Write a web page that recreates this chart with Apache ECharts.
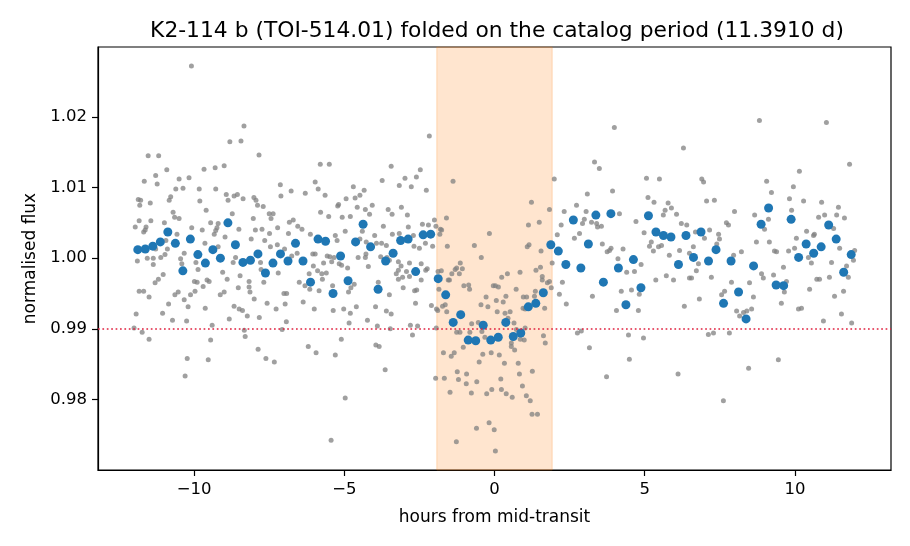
<!DOCTYPE html>
<html>
<head>
<meta charset="utf-8">
<script src="https://cdn.jsdelivr.net/npm/echarts@6/dist/echarts.min.js"></script>
<style>
  html, body { margin: 0; padding: 0; background: #fff; }
  #chart { width: 910px; height: 546px; }
</style>
</head>
<body>
<div id="chart"></div>
<script>
// folded light curve, hours from mid-transit vs normalised flux
const titleText = 'K2-114 b (TOI-514.01) folded on the catalog period (11.3910 d)';
const xTicks = [-10, -5, 0, 5, 10];
const yTicks = [0.98, 0.99, 1.00, 1.01, 1.02];
const transitWindow = [-1.92, 1.92];
const depthLevel = 0.98934;

// individual (unbinned) points [hours, flux]
const rawPoints = [
  [-10.09,1.0272],[-8.34,1.0187],[-8.81,1.0165],[-8.44,1.0166],[-7.84,1.0146],[-11.53,1.0145],[-11.18,1.0145],[-10.91,1.0125],
  [-9.00,1.0131],[-9.30,1.0128],[-9.67,1.0126],[-11.28,1.0117],[-10.50,1.0112],[-10.17,1.0114],[-11.66,1.0109],[-11.23,1.0105],
  [-10.61,1.0098],[-10.37,1.0099],[-9.83,1.0098],[-9.28,1.0098],[-7.13,1.0104],[-6.77,1.0095],[-7.11,1.0088],[-11.86,1.0083],
  [-11.78,1.0082],[-11.81,1.0075],[-11.46,1.0078],[-10.78,1.0087],[-10.83,1.0082],[-8.93,1.0090],[-8.87,1.0082],[-8.67,1.0088],
  [-8.56,1.0090],[-8.37,1.0084],[-8.01,1.0086],[-7.94,1.0082],[-7.89,1.0075],[-7.70,1.0073],[-9.81,1.0081],[-9.60,1.0068],
  [-10.70,1.0065],[-10.65,1.0058],[-10.50,1.0056],[-8.73,1.0063],[-7.50,1.0063],[-7.37,1.0063],[-7.44,1.0056],[-8.03,1.0056],
  [-11.83,1.0053],[-11.44,1.0053],[-10.99,1.0050],[-9.45,1.0050],[-9.20,1.0049],[-11.96,1.0044],[-11.60,1.0044],[-11.63,1.0040],
  [-11.68,1.0037],[-8.51,1.0041],[-7.96,1.0040],[-7.74,1.0041],[-6.83,1.0051],[-6.70,1.0054],[-6.55,1.0045],[-6.86,1.0035],
  [-10.08,1.0043],[-9.73,1.0040],[-9.24,1.0043],[-9.28,1.0039],[-9.33,1.0034],[-7.49,1.0035],[-7.22,1.0043],[-8.10,1.0027],
  [-8.97,1.0030],[-7.65,1.0025],[-10.94,1.0025],[-10.57,1.0034],[-11.28,1.0013],
  [-11.89,0.9996],[-11.56,1.0000],[-11.36,1.0000],[-11.36,0.9991],[-11.11,1.0001],[-10.97,1.0005],[-10.89,1.0013],[-10.33,1.0007],
  [-10.45,0.9999],[-10.41,0.9992],[-9.94,0.9994],[-9.87,0.9984],[-9.64,1.0021],[-9.20,1.0016],[-9.05,0.9980],[-8.90,0.9970],
  [-8.70,0.9994],[-8.62,1.0001],[-8.53,0.9958],[-8.47,0.9975],[-8.17,0.9967],[-8.17,0.9959],[-8.14,0.9952],[-8.00,0.9942],
  [-7.79,0.9994],[-7.77,0.9984],[-7.68,0.9966],[-7.62,0.9980],[-7.46,1.0016],[-7.20,0.9979],[-7.23,1.0019],[-6.99,1.0013],
  [-6.75,1.0003],[-6.50,0.9966],[-11.83,0.9953],[-11.68,0.9953],[-11.50,0.9945],[-11.30,0.9965],[-11.19,0.9970],[-11.03,0.9977],
  [-10.85,0.9935],[-10.64,0.9948],[-10.53,0.9952],[-10.33,0.9941],[-10.20,0.9931],[-10.12,0.9948],[-9.99,0.9967],[-9.90,0.9966],
  [-9.97,0.9953],[-9.70,0.9960],[-9.57,0.9969],[-9.50,0.9967],[-9.13,0.9948],[-9.00,0.9952],[-9.63,0.9929],[-10.25,0.9911],
  [-10.72,0.9912],[-11.05,0.9922],[-11.93,0.9921],[-12.00,0.9901],[-11.73,0.9895],[-11.50,0.9885],[-9.40,0.9905],[-9.45,0.9884],
  [-10.23,0.9858],[-9.53,0.9856],[-10.30,0.9833],[-8.83,0.9914],[-8.67,0.9932],[-8.50,0.9928],[-8.39,0.9926],[-8.23,0.9918],
  [-7.83,0.9916],[-7.57,0.9936],[-7.27,0.9928],[-6.97,0.9935],[-6.92,0.9950],[-7.01,0.9950],[-6.93,0.9910],[-7.07,0.9899],
  [-8.33,0.9898],[-8.30,0.9889],[-7.87,0.9871],[-7.61,0.9858],[-7.33,0.9853],
  [-2.17,1.0173],[-5.80,1.0133],[-5.50,1.0133],[-3.44,1.0130],[-2.47,1.0125],[-1.38,1.0109],[-2.60,1.0115],[-2.98,1.0113],
  [-3.74,1.0110],[-5.97,1.0108],[-5.87,1.0098],[-6.30,1.0092],[-5.64,1.0089],[-4.70,1.0101],[-4.34,1.0096],[-4.48,1.0089],
  [-4.64,1.0085],[-4.94,1.0084],[-3.17,1.0103],[-2.77,1.0101],[-2.27,1.0096],[-5.22,1.0074],[-5.19,1.0076],[-5.79,1.0065],
  [-5.52,1.0059],[-5.07,1.0058],[-4.80,1.0059],[-4.57,1.0072],[-4.30,1.0069],[-4.07,1.0075],[-4.16,1.0062],[-3.54,1.0069],
  [-3.10,1.0072],[-3.41,1.0062],[-2.90,1.0061],[-1.60,1.0057],[-2.00,1.0054],[-2.40,1.0048],[-2.20,1.0047],[-1.95,1.0045],
  [-1.80,1.0041],[-3.70,1.0045],[-2.87,1.0044],[-6.41,1.0041],[-6.13,1.0034],[-5.30,1.0032],[-4.97,1.0038],[-5.24,1.0025],
  [-4.40,1.0038],[-3.99,1.0032],[-4.27,1.0023],[-4.48,1.0027],[-3.93,1.0021],[-3.76,1.0021],[-3.60,1.0018],[-3.40,1.0034],
  [-3.17,1.0035],[-2.70,1.0032],[-2.68,1.0017],[-2.50,1.0014],[-2.30,1.0021],[-2.06,1.0017],[-1.57,1.0017],[-0.67,1.0018],
  [-0.17,1.0035],[-0.44,1.0001],[-1.82,1.0034],[-1.76,1.0040],[-6.57,1.0007],[-6.05,1.0006],[-5.97,1.0006],[-5.69,0.9993],
  [-5.57,1.0003],[-5.48,1.0002],[-5.34,1.0001],[-5.42,0.9995],[-5.17,0.9992],[-5.09,0.9990],[-4.89,0.9986],[-4.54,1.0001],
  [-4.28,1.0006],[-4.30,1.0001],[-4.20,0.9988],[-3.79,1.0002],[-3.50,0.9997],[-3.58,1.0001],[-3.20,0.9995],[-3.11,0.9989],
  [-2.83,0.9993],[-2.44,0.9992],[-2.24,0.9985],[-2.29,0.9983],[-2.83,0.9974],[-3.20,0.9983],[-3.27,0.9978],[-3.06,0.9973],
  [-1.14,0.9993],[-1.26,0.9986],[-1.07,0.9985],[-1.42,0.9978],[-1.31,0.9984],[-1.54,0.9969],[-1.77,0.9982],[-1.88,0.9981],
  [-5.60,0.9979],[-5.75,0.9978],[-6.03,0.9989],[-5.89,0.9982],[-6.17,0.9978],
  [-5.73,0.9970],[-5.39,0.9961],[-6.31,0.9961],[-6.15,0.9956],[-5.84,0.9954],[-4.78,0.9958],[-4.67,0.9963],[-4.86,0.9952],
  [-6.37,0.9938],[-6.00,0.9928],[-5.37,0.9926],[-5.02,0.9928],[-4.80,0.9922],[-4.60,0.9931],[-4.84,0.9908],[-3.96,0.9931],
  [-3.87,0.9966],[-3.50,0.9948],[-3.60,0.9925],[-3.44,0.9921],[-4.23,0.9912],[-3.90,0.9904],[-3.47,0.9900],[-3.20,0.9970],
  [-3.04,0.9958],[-2.93,0.9981],[-2.66,0.9954],[-2.59,0.9955],[-2.63,0.9936],[-2.44,0.9969],[-2.10,0.9933],[-1.89,0.9926],
  [-1.85,0.9956],[-1.93,0.9928],[-1.73,0.9932],[-1.64,0.9934],[-1.59,0.9924],[-1.50,0.9969],[-1.17,0.9978],[-1.02,0.9961],
  [-0.86,0.9962],[-0.83,0.9956],[-0.45,0.9934],[-0.28,0.9945],[-0.22,0.9931],[-0.76,0.9907],[-0.54,0.9909],[-1.15,0.9895],
  [-1.26,0.9895],[-1.04,0.9874],[-0.82,0.9895],[-0.42,0.9896],[-0.32,0.9888],[-1.94,0.9901],[-2.80,0.9905],[-2.56,0.9904],
  [-2.73,0.9891],[-6.20,0.9875],[-5.94,0.9866],[-5.30,0.9863],[-5.10,0.9885],[-3.95,0.9877],[-3.84,0.9875],[-3.64,0.9842],
  [-4.97,0.9802],[-5.44,0.9742],[-1.96,0.9830],[-1.67,0.9830],[-1.70,0.9866],[-1.44,0.9861],[-1.34,0.9866],[-1.24,0.9839],
  [-1.20,0.9828],[-0.93,0.9836],[-0.94,0.9822],[-0.59,0.9825],[-0.77,0.9809],[-1.48,0.9810],[-0.51,0.9853],[-0.39,0.9864],
  [-0.26,0.9808],[-0.60,0.9759],[-1.27,0.9740],[-0.18,0.9767],
  [3.99,1.0185],[6.29,1.0156],[3.33,1.0136],[3.49,1.0127],[1.99,1.0112],[5.06,1.0113],[5.49,1.0112],[3.93,1.0095],
  [3.09,1.0091],[5.11,1.0086],[5.31,1.0079],[1.23,1.0079],[5.78,1.0078],[5.89,1.0071],[5.68,1.0068],[5.62,1.0061],
  [6.06,1.0062],[2.73,1.0075],[2.32,1.0066],[3.05,1.0066],[1.83,1.0069],[1.49,1.0051],[1.13,1.0047],[4.16,1.0063],
  [2.99,1.0055],[2.93,1.0049],[3.23,1.0051],[3.40,1.0049],[3.43,1.0044],[3.56,1.0045],[2.22,1.0047],[4.71,1.0052],
  [6.22,1.0049],[6.40,1.0047],[2.09,1.0033],[2.83,1.0035],[2.66,1.0028],[4.98,1.0036],[5.22,1.0023],[5.16,1.0017],
  [5.29,1.0010],[5.46,1.0016],[5.56,1.0018],[5.82,1.0004],[6.16,1.0011],[6.49,1.0007],[3.59,1.0020],[3.88,1.0014],
  [3.75,1.0009],[3.83,1.0011],[4.28,1.0013],[1.15,1.0019],[1.09,1.0016],[1.55,1.0010],[1.92,0.9993],[1.38,0.9983],
  [1.53,0.9987],[1.59,0.9974],[4.40,0.9980],[4.66,0.9981],[4.88,0.9991],[4.11,0.9999],[0.85,0.9980],[0.43,0.9978],
  [0.24,0.9973],[5.72,0.9975],[5.37,0.9969],
  [1.59,0.9969],[1.76,0.9965],[1.83,0.9967],[0.03,0.9961],[0.13,0.9959],[-0.04,0.9961],[0.72,0.9956],[0.38,0.9946],
  [0.96,0.9945],[1.07,0.9945],[1.36,0.9953],[1.33,0.9946],[1.89,0.9958],[2.26,0.9966],[2.16,0.9949],[2.39,0.9935],
  [3.26,0.9946],[0.06,0.9940],[0.29,0.9938],[0.09,0.9924],[0.35,0.9922],[0.52,0.9924],[0.65,0.9908],[1.67,0.9929],
  [0.45,0.9915],[0.95,0.9929],[1.02,0.9928],[1.18,0.9931],[0.73,0.9899],[1.02,0.9901],[0.99,0.9884],[0.86,0.9885],
  [1.63,0.9890],[1.69,0.9880],[0.56,0.9880],[0.56,0.9875],[0.67,0.9870],[0.16,0.9863],[-0.11,0.9866],[0.33,0.9851],
  [0.79,0.9851],[0.83,0.9836],[1.26,0.9840],[0.21,0.9829],[0.93,0.9819],[-0.09,0.9814],[0.23,0.9814],[0.39,0.9808],
  [0.59,0.9803],[1.06,0.9805],[1.19,0.9798],[1.25,0.9779],[1.43,0.9779],[-0.01,0.9757],[0.03,0.9727],[2.76,0.9894],
  [2.89,0.9897],[3.16,0.9873],[3.73,0.9832],[4.06,0.9926],[4.22,0.9953],[4.56,0.9955],[4.82,0.9949],[4.79,0.9926],
  [4.46,0.9891],[4.49,0.9857],[4.96,0.9887],[5.96,0.9969],[6.32,0.9932],[6.11,0.9836],[6.49,0.9972],
  [8.82,1.0195],[11.05,1.0192],[11.82,1.0133],[10.15,1.0123],[9.06,1.0109],[6.90,1.0112],[6.96,1.0108],[9.95,1.0101],
  [9.22,1.0093],[7.06,1.0081],[7.32,1.0082],[9.82,1.0084],[10.29,1.0081],[10.89,1.0079],[11.45,1.0072],[9.89,1.0068],
  [7.99,1.0066],[8.66,1.0061],[11.39,1.0061],[11.65,1.0057],[10.79,1.0058],[10.99,1.0061],[9.12,1.0055],[7.72,1.0050],
  [7.79,1.0047],[8.99,1.0041],[10.39,1.0038],[10.65,1.0034],[10.62,1.0032],[10.05,1.0028],[11.29,1.0042],[7.16,1.0040],
  [7.46,1.0034],[6.99,1.0028],[7.49,1.0027],[6.69,1.0037],[6.62,1.0016],[8.72,1.0023],[9.15,1.0023],[9.99,1.0014],
  [9.79,1.0010],[9.32,1.0010],[9.39,1.0009],[8.22,1.0009],[7.96,1.0004],[11.49,1.0014],[11.99,1.0011],[7.40,1.0020],
  [10.45,1.0001],[10.55,0.9993],[11.22,0.9994],[11.72,0.9989],[11.95,0.9997],[6.79,0.9992],[6.72,0.9982],[9.62,0.9987],
  [8.89,0.9978],[9.29,0.9976],[6.56,0.9972],[7.22,0.9973],[8.95,0.9972],[10.73,0.9970],[11.15,0.9973],[11.78,0.9973],
  [7.89,0.9966],[7.66,0.9953],[7.56,0.9948],[6.82,0.9942],[8.49,0.9965],[8.62,0.9945],[9.72,0.9967],[9.65,0.9952],
  [9.55,0.9936],[8.06,0.9925],[8.16,0.9918],[8.29,0.9923],[8.40,0.9925],[8.56,0.9928],[10.12,0.9928],[10.22,0.9929],
  [10.49,0.9956],[10.82,0.9970],[11.32,0.9946],[11.62,0.9953],[11.55,0.9921],[11.89,0.9908],[10.95,0.9911],[7.82,0.9894],
  [7.12,0.9892],[7.29,0.9894],[9.45,0.9856],[8.46,0.9844],[7.62,0.9798]
];

// binned points (0.25 h bins)
const binHours = [
  -11.875,-11.625,-11.375,-11.125,-10.875,-10.625,-10.375,-10.125,-9.875,-9.625,-9.375,-9.125,
  -8.875,-8.625,-8.375,-8.125,-7.875,-7.625,-7.375,-7.125,-6.875,-6.625,-6.375,-6.125,
  -5.875,-5.625,-5.375,-5.125,-4.875,-4.625,-4.375,-4.125,-3.875,-3.625,-3.375,-3.125,
  -2.875,-2.625,-2.375,-2.125,-1.875,-1.625,-1.375,-1.125,-0.875,-0.625,-0.375,-0.125,
  0.125,0.375,0.625,0.875,1.125,1.375,1.625,1.875,2.125,2.375,2.625,2.875,
  3.125,3.375,3.625,3.875,4.125,4.375,4.625,4.875,5.125,5.375,5.625,5.875,
  6.125,6.375,6.625,6.875,7.125,7.375,7.625,7.875,8.125,8.375,8.625,8.875,
  9.125,9.375,9.625,9.875,10.125,10.375,10.625,10.875,11.125,11.375,11.625,11.875
];
const binFlux = [
  1.0012,1.0013,1.0017,1.0023,1.0037,1.0021,0.9982,1.0027,1.0005,0.9993,1.0012,1.0000,
  1.0050,1.0019,0.9994,0.9997,1.0006,0.9979,0.9993,1.0006,0.9996,1.0021,0.9996,0.9966,
  1.0027,1.0024,0.9950,1.0003,0.9968,1.0023,1.0048,1.0016,0.9956,0.9996,1.0007,1.0025,
  1.0027,0.9981,1.0033,1.0034,0.9971,0.9948,0.9909,0.9920,0.9884,0.9883,0.9905,0.9884,
  0.9888,0.9909,0.9889,0.9894,0.9931,0.9936,0.9951,1.0019,1.0010,0.9991,1.0054,0.9986,
  1.0020,1.0061,0.9966,1.0063,0.9986,0.9934,0.9998,0.9958,1.0060,1.0037,1.0032,1.0030,
  0.9991,1.0032,1.0001,1.0037,0.9996,1.0012,0.9936,0.9996,0.9952,0.9914,0.9989,1.0048,
  1.0071,0.9962,0.9961,1.0055,1.0001,1.0020,1.0007,1.0016,1.0047,1.0027,0.9980,1.0005
];

const font = 'DejaVu Sans, Liberation Sans, sans-serif';
const binned = binHours.map((h, i) => [h, binFlux[i]]);

const chart = echarts.init(document.getElementById('chart'), null, { renderer: 'canvas' });

const option = {
  animation: false,
  backgroundColor: '#fff',
  textStyle: { fontFamily: font, color: '#000' },
  title: {
    text: titleText,
    left: 492,
    top: 15,
    textAlign: 'center',
    textStyle: { fontFamily: font, fontSize: 21.8, fontWeight: 'normal', color: '#000' }
  },
  grid: {
    left: 98, right: 19, top: 47, bottom: 76,
    show: true, borderColor: '#000', borderWidth: 1.2, backgroundColor: 'transparent'
  },
  xAxis: {
    type: 'value',
    min: -13.2, max: 13.2,
    name: 'hours from mid-transit',
    nameLocation: 'middle',
    nameGap: 39,
    nameTextStyle: { fontFamily: font, fontSize: 17, color: '#000' },
    axisLine: { show: true, onZero: false, lineStyle: { color: '#000', width: 1.2 } },
    axisTick: { show: true, length: 6, customValues: xTicks, lineStyle: { color: '#000', width: 1.2 } },
    axisLabel: {
      customValues: xTicks, margin: 11, fontSize: 16.5, fontFamily: font, color: '#000',
      formatter: v => String(v).replace('-', '\u2212')
    },
    splitLine: { show: false }
  },
  yAxis: {
    type: 'value',
    min: 0.9700, max: 1.0299,
    name: 'normalised flux',
    nameLocation: 'middle',
    nameRotate: 90,
    nameGap: 54,
    nameTextStyle: { fontFamily: font, fontSize: 17, color: '#000' },
    axisLine: { show: true, onZero: false, lineStyle: { color: '#000', width: 1.2 } },
    axisTick: { show: true, length: 6, customValues: yTicks, lineStyle: { color: '#000', width: 1.2 } },
    axisLabel: {
      customValues: yTicks, margin: 11, fontSize: 16.5, fontFamily: font, color: '#000',
      formatter: v => v.toFixed(2)
    },
    splitLine: { show: false }
  },
  series: [
    {
      // transit window shading
      type: 'scatter',
      data: [],
      z: 1,
      silent: true,
      markArea: {
        silent: true,
        itemStyle: { color: 'rgba(255,127,14,0.2)', borderColor: 'rgba(255,127,14,0.25)', borderWidth: 1 },
        data: [[{ xAxis: transitWindow[0] }, { xAxis: transitWindow[1] }]]
      }
    },
    {
      type: 'scatter',
      data: rawPoints,
      z: 2,
      symbolSize: 5,
      silent: true,
      itemStyle: { color: '#808080', opacity: 0.75 }
    },
    {
      type: 'line',
      data: [],
      z: 3,
      silent: true,
      markLine: {
        silent: true,
        symbol: 'none',
        label: { show: false },
        lineStyle: { color: '#e0203f', width: 1.6, type: [1.7, 2.7] },
        data: [{ yAxis: depthLevel }]
      }
    },
    {
      type: 'scatter',
      data: binned,
      z: 4,
      symbolSize: 9,
      silent: true,
      itemStyle: { color: '#1f77b4', opacity: 1 }
    }
  ]
};

chart.setOption(option);
</script>
</body>
</html>
